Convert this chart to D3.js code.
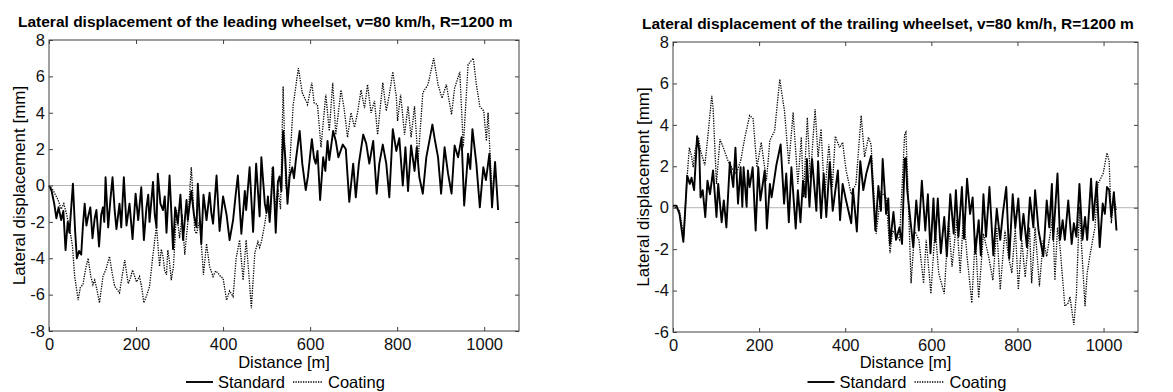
<!DOCTYPE html>
<html>
<head>
<meta charset="utf-8">
<script src="https://cdn.jsdelivr.net/npm/d3@7/dist/d3.min.js"></script>
<style>
  body { margin: 0; background: #fff; }
  svg { display: block; font-family: Arial, "Liberation Sans", sans-serif; }
</style>
</head>
<body>
<svg id="chart" width="1173" height="392"></svg>
<script>
// distance [m], lateral displacement [mm]
const leadingStandard = [[0,0],[6,-0.3],[12,-1.0],[17,-1.8],[22,-1.2],[28,-1.9],[33,-1.4],[38,-3.55],[43,-2.0],[47,-2.6],[55,0.1],[60,-2.5],[64,-4.0],[69,-3.6],[74,-3.8],[78,-2.2],[82,-1.0],[86,-2.2],[90,-1.7],[95,-1.2],[100,-2.9],[105,-1.8],[109,-1.35],[115,-3.35],[120,-1.6],[124,-1.2],[127,-2.0],[130,0.45],[136,-2.3],[141,-0.8],[146,0.45],[151,-1.4],[155,-2.4],[162,-1.0],[166,-2.3],[172,0.45],[178,-2.2],[185,-1.0],[192,-2.95],[199,-0.45],[205,-1.9],[212,-0.1],[218,-3.0],[224,-1.2],[228,-0.5],[231,-2.0],[239,0.2],[243,-1.6],[247,-2.3],[250,0.65],[256,-1.0],[262,-1.35],[266,-0.6],[270,-2.6],[277,0.55],[281,-1.4],[285,-3.5],[290,-1.2],[296,-2.1],[302,-0.5],[308,-3.0],[316,-0.8],[319,-1.9],[324,-0.9],[327,-0.3],[333,-1.6],[339,-2.3],[342,0.1],[350,-3.2],[355,-0.5],[362,-1.9],[369,-0.4],[373,-1.5],[377,-2.1],[385,0.55],[392,-2.5],[400,-0.6],[408,-1.6],[415,-3.0],[423,-1.9],[429,-0.5],[434,0.55],[442,-2.65],[450,-0.3],[453,-1.35],[461,1.0],[469,-2.55],[476,1.2],[484,-1.7],[488,1.55],[496,-1.0],[500,-1.5],[503,-0.6],[507,-2.0],[515,1.0],[521,-2.6],[526,0.2],[530,0.5],[534,-0.3],[538,3.0],[543,1.5],[548,-1.0],[553,0.5],[559,1.0],[563,0.4],[567,1.35],[576,3.0],[582,1.2],[590,-0.25],[595,0.5],[604,2.55],[609,1.5],[613,1.2],[617,1.9],[623,-0.8],[630,1.55],[635,0.8],[640,2.45],[644,1.4],[653,3.0],[659,2.45],[665,1.55],[675,2.25],[682,2.0],[690,-0.9],[699,1.2],[705,-0.65],[712,1.2],[722,2.8],[729,2.3],[736,1.2],[745,2.45],[753,-0.45],[759,1.2],[767,2.25],[775,1.2],[782,-0.65],[790,3.1],[798,1.9],[805,2.6],[813,0.0],[819,2.1],[825,-0.3],[832,2.2],[840,0.8],[845,2.1],[851,0.45],[859,-0.45],[867,1.55],[881,3.35],[886,2.6],[894,1.55],[901,-0.45],[909,2.1],[917,0.65],[925,-0.45],[932,2.2],[940,1.55],[948,2.65],[954,-1.1],[963,1.75],[968,0.9],[973,3.1],[982,1.2],[990,-1.2],[998,1.0],[1004,0.3],[1012,1.75],[1018,-1.2],[1025,1.3],[1032,-1.35]];
const leadingCoating = [[0,0],[9,-0.25],[21,-0.8],[28,-1.3],[34,-1.0],[40,-1.55],[47,-2.3],[54,-3.35],[59,-5.0],[67,-6.3],[72,-5.6],[78,-5.45],[84,-4.6],[90,-4.0],[96,-5.0],[101,-5.45],[105,-5.2],[109,-5.6],[116,-6.45],[124,-5.0],[131,-4.6],[139,-3.9],[145,-4.8],[151,-5.55],[156,-5.7],[162,-5.9],[168,-5.0],[174,-4.1],[182,-5.4],[187,-5.1],[192,-4.65],[197,-5.0],[201,-5.3],[208,-5.0],[213,-5.6],[218,-6.45],[225,-6.0],[231,-5.55],[239,-3.8],[247,-2.2],[254,-4.45],[258,-3.5],[262,-3.9],[266,-4.7],[270,-4.9],[273,-3.55],[277,-4.2],[281,-5.2],[286,-4.45],[293,-1.35],[300,-2.9],[306,-1.6],[312,-3.8],[319,-2.0],[327,1.0],[335,-2.5],[339,-2.65],[346,-1.9],[355,-4.9],[362,-3.2],[369,-4.45],[377,-5.0],[383,-4.7],[388,-4.8],[394,-5.0],[400,-5.1],[408,-6.3],[415,-5.8],[423,-6.1],[430,-4.0],[438,-3.0],[446,-5.2],[453,-3.0],[459,-4.8],[465,-6.75],[473,-3.7],[480,-3.1],[484,-3.4],[488,-3.1],[496,-2.1],[503,-0.9],[509,-1.6],[513,1.0],[519,-1.2],[526,-0.2],[532,-1.3],[538,5.45],[544,0.0],[549,-0.6],[561,4.4],[573,6.45],[582,5.1],[594,4.45],[604,5.65],[609,4.55],[617,4.45],[625,2.1],[636,5.0],[644,3.0],[652,5.65],[659,2.8],[671,5.25],[678,4.25],[686,2.65],[694,4.0],[702,3.2],[709,4.0],[717,5.25],[725,4.25],[732,5.55],[740,4.0],[748,4.65],[755,2.8],[767,5.65],[775,4.1],[782,5.0],[790,6.25],[798,4.9],[801,3.55],[808,5.0],[817,2.8],[825,4.35],[832,2.65],[840,4.35],[848,1.35],[859,5.1],[871,5.55],[884,7.0],[894,5.55],[903,4.8],[913,5.55],[925,3.9],[932,5.35],[944,6.25],[952,2.1],[963,6.65],[975,7.0],[982,5.55],[990,4.35],[999,4.1],[1005,2.45],[1009,4.0],[1013,1.95],[1018,-0.3]];
const trailingStandard = [[0,0.1],[8,0.1],[15,-0.3],[24,-1.65],[33,1.55],[39,1.15],[43,1.45],[49,0.85],[56,3.45],[61,2.75],[64,0.5],[69,0.85],[75,-0.45],[80,1.3],[86,0.65],[93,1.8],[101,-0.45],[105,1.15],[113,-0.7],[118,0.35],[124,-0.95],[132,2.2],[140,1.0],[145,2.9],[151,0.2],[157,1.95],[161,0.05],[164,1.95],[171,0.05],[174,1.8],[178,1.0],[185,1.95],[192,-1.1],[198,1.95],[203,0.35],[213,1.8],[218,-1.0],[225,1.15],[229,0.5],[240,2.05],[250,3.05],[258,0.2],[263,1.65],[269,-0.7],[275,1.95],[285,-1.0],[290,0.85],[296,-0.7],[302,1.3],[308,0.5],[311,2.35],[317,0.05],[323,2.35],[333,-0.15],[337,2.25],[344,-0.5],[350,1.65],[356,-0.45],[364,2.2],[371,-0.15],[383,1.8],[388,-0.6],[394,1.15],[402,0.35],[414,-0.75],[418,0.9],[427,-1.15],[435,2.25],[442,0.85],[449,1.65],[460,2.5],[470,-1.1],[477,1.05],[483,-0.15],[487,2.35],[495,-0.3],[500,0.45],[504,-1.75],[512,-0.2],[518,-1.55],[526,-0.95],[532,-1.75],[538,2.35],[541,2.4],[544,0.85],[558,-1.9],[565,0.35],[571,-1.1],[578,1.3],[586,-1.1],[592,0.65],[598,-2.2],[605,0.45],[609,-1.65],[615,0.45],[622,-2.2],[630,-0.45],[636,-2.35],[644,0.65],[652,-1.25],[657,0.85],[663,-1.4],[671,1.0],[676,-1.5],[683,1.4],[690,-0.3],[696,0.5],[702,-2.2],[710,-0.6],[715,-2.3],[721,0.65],[727,-1.4],[735,1.0],[744,-2.3],[752,-0.05],[760,-1.55],[766,-0.3],[774,1.0],[781,-2.45],[789,0.65],[795,-0.95],[802,0.45],[808,-1.55],[814,-0.3],[822,-1.9],[829,0.5],[837,-0.95],[841,0.85],[849,-1.1],[860,-2.35],[868,0.35],[874,-0.95],[880,1.15],[883,-1.55],[893,1.65],[899,-1.55],[905,-0.6],[910,-1.55],[918,0.35],[926,-1.75],[931,-0.75],[937,-1.4],[944,1.15],[951,-1.55],[957,-0.45],[962,-1.55],[971,1.4],[976,-0.6],[984,1.25],[991,-1.9],[998,0.2],[1003,-0.3],[1008,1.0],[1013,0.85],[1018,-0.45],[1024,0.75],[1030,-1.1]];
const trailingCoating = [[0,0.1],[15,-0.15],[25,-1.4],[32,1.3],[38,2.9],[43,2.5],[47,1.95],[51,2.75],[59,3.4],[64,2.75],[74,2.05],[80,3.25],[90,5.4],[93,4.85],[101,1.15],[109,3.3],[117,2.9],[128,2.25],[140,1.8],[147,1.65],[157,2.25],[167,3.4],[178,4.45],[186,4.3],[195,1.95],[205,3.15],[217,1.3],[225,3.25],[236,3.7],[248,6.2],[259,4.65],[269,2.1],[279,4.6],[290,1.15],[298,3.4],[303,0.5],[312,4.35],[319,1.45],[330,4.75],[337,2.45],[344,3.8],[352,0.5],[362,3.05],[370,1.0],[377,3.45],[387,2.9],[394,3.15],[402,1.8],[414,0.65],[425,1.15],[437,4.45],[445,2.45],[454,3.4],[460,3.05],[472,-1.25],[483,0.75],[495,0.5],[504,-2.2],[510,-1.1],[526,-1.55],[538,3.55],[541,3.65],[545,1.3],[553,-3.65],[561,-1.1],[571,-1.55],[582,-3.65],[588,-1.55],[599,-4.15],[609,-0.95],[617,-3.15],[630,-4.15],[640,-0.6],[648,-2.85],[659,-0.6],[667,-3.15],[675,-0.3],[683,-2.35],[694,-4.6],[702,-1.4],[710,-4.35],[721,-1.25],[733,-2.35],[743,-3.5],[752,-0.95],[760,-3.95],[771,-1.1],[779,-2.35],[787,-3.15],[795,-0.95],[802,-3.95],[810,-1.55],[818,-3.35],[828,-0.95],[833,-3.65],[841,-0.95],[851,-3.8],[860,-1.55],[868,-2.35],[882,-0.45],[887,-3.5],[893,-0.95],[899,-1.9],[910,-4.75],[918,-4.6],[922,-4.3],[931,-5.65],[937,-4.15],[944,0.05],[949,-1.9],[957,-4.75],[962,-3.15],[968,-2.35],[980,-0.95],[987,1.15],[999,1.65],[1008,2.65],[1013,2.25],[1018,-0.75],[1024,0.5],[1030,-0.15]];

const xTicks = [0, 200, 400, 600, 800, 1000];
const leadingYTicks = [-8, -6, -4, -2, 0, 2, 4, 6, 8];
const trailingYTicks = [-6, -4, -2, 0, 2, 4, 6, 8];
const legendLabels = ['Standard', 'Coating'];

const svg = d3.select('#chart');
const axisColor = '#404040';
const plain = d => String(d); // matlab style: 1000, hyphen minus

function drawPanel(p) {
  const x = d3.scaleLinear().domain([0, 1080]).range([p.left, p.right]);
  const y = d3.scaleLinear().domain([p.yTicks[0], p.yTicks[p.yTicks.length - 1]]).range([p.bottom, p.top]);
  const g = svg.append('g');

  // zero reference line
  g.append('line')
    .attr('x1', p.left).attr('x2', p.right)
    .attr('y1', y(0)).attr('y2', y(0))
    .attr('stroke', '#b4b4b4')
    .attr('stroke-width', 1);

  const line = d3.line().x(d => x(d[0])).y(d => y(d[1]));

  // coating - dotted
  g.append('path')
    .datum(p.coating)
    .attr('d', line)
    .attr('fill', 'none')
    .attr('stroke', '#000')
    .attr('stroke-width', 1.3)
    .attr('stroke-dasharray', '1.3,1.2');

  // standard - solid
  g.append('path')
    .datum(p.standard)
    .attr('d', line)
    .attr('fill', 'none')
    .attr('stroke', '#000')
    .attr('stroke-width', 1.9)
    .attr('stroke-linejoin', 'round');

  // axes, ticks pointing inward like matlab
  const styleAxis = sel => {
    sel.select('.domain').remove();
    sel.selectAll('line').attr('stroke', axisColor);
    sel.selectAll('text').attr('fill', '#111').style('font-size', '16.5px');
  };
  g.append('g')
    .attr('transform', `translate(0,${p.bottom})`)
    .call(d3.axisBottom(x).tickValues(xTicks).tickFormat(plain).tickSizeInner(-4).tickSizeOuter(0).tickPadding(7))
    .call(styleAxis);
  g.append('g')
    .attr('transform', `translate(0,${p.top})`)
    .call(d3.axisTop(x).tickValues(xTicks).tickSizeInner(-4).tickSizeOuter(0).tickFormat(''))
    .call(styleAxis);
  g.append('g')
    .attr('transform', `translate(${p.left},0)`)
    .call(d3.axisLeft(y).tickValues(p.yTicks).tickFormat(plain).tickSizeInner(-4).tickSizeOuter(0).tickPadding(4))
    .call(styleAxis);
  g.append('g')
    .attr('transform', `translate(${p.right},0)`)
    .call(d3.axisRight(y).tickValues(p.yTicks).tickSizeInner(-4).tickSizeOuter(0).tickFormat(''))
    .call(styleAxis);

  // box
  g.append('rect')
    .attr('x', p.left).attr('y', p.top)
    .attr('width', p.right - p.left).attr('height', p.bottom - p.top)
    .attr('fill', 'none')
    .attr('stroke', axisColor)
    .attr('stroke-width', 1);

  // title
  svg.append('text')
    .attr('x', p.left - 31)
    .attr('y', p.top - 13)
    .style('font-size', '15.5px')
    .style('font-weight', 'bold')
    .text(p.title);

  // axis labels
  const cx = (p.left + p.right) / 2;
  svg.append('text')
    .attr('x', cx)
    .attr('y', 368)
    .attr('text-anchor', 'middle')
    .style('font-size', '16.5px')
    .text('Distance [m]');
  svg.append('text')
    .attr('transform', `translate(${p.left - 24},${(p.top + p.bottom) / 2}) rotate(-90)`)
    .attr('text-anchor', 'middle')
    .style('font-size', '17px')
    .text('Lateral displacement [mm]');

  // legend
  const leg = svg.append('g').attr('transform', `translate(${cx},382)`);
  leg.append('line').attr('x1', -98).attr('x2', -71)
    .attr('stroke', '#000').attr('stroke-width', 1.9);
  leg.append('text').attr('x', -66).attr('y', 6).style('font-size', '16.5px').text(legendLabels[0]);
  leg.append('line').attr('x1', 9).attr('x2', 39)
    .attr('stroke', '#000').attr('stroke-width', 1.3).attr('stroke-dasharray', '1.3,1.2');
  leg.append('text').attr('x', 44).attr('y', 6).style('font-size', '16.5px').text(legendLabels[1]);
}

drawPanel({
  left: 49, right: 519, top: 40, bottom: 331,
  yTicks: leadingYTicks,
  standard: leadingStandard, coating: leadingCoating,
  title: 'Lateral displacement of the leading wheelset, v=80 km/h, R=1200 m'
});

drawPanel({
  left: 673, right: 1138, top: 42, bottom: 332,
  yTicks: trailingYTicks,
  standard: trailingStandard, coating: trailingCoating,
  title: 'Lateral displacement of the trailing wheelset, v=80 km/h, R=1200 m'
});
</script>
</body>
</html>
